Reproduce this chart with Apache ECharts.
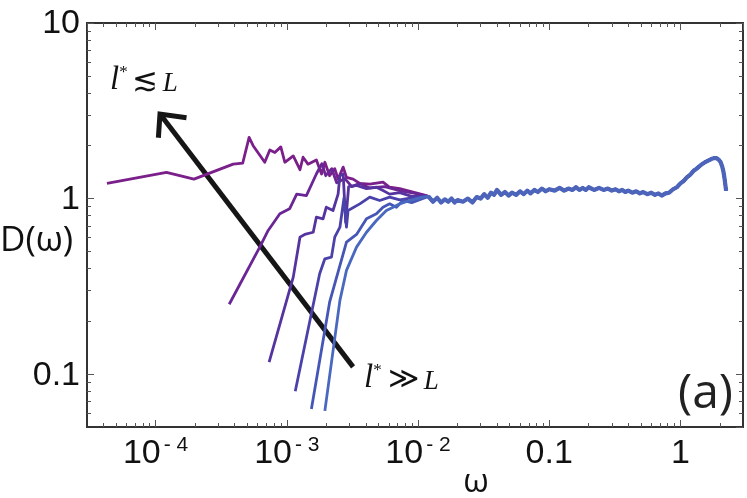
<!DOCTYPE html>
<html>
<head>
<meta charset="utf-8">
<script src="https://cdn.jsdelivr.net/npm/echarts@6/dist/echarts.min.js"></script>
<style>
  html, body { margin: 0; padding: 0; background: #fff; }
  #chart { width: 747px; height: 498px; }
</style>
</head>
<body>
<div id="chart"></div>
<script>
// low-frequency parts of each curve (omega, D)
const omega1 = [4.26e-5, 1.21e-4, 1.96e-4, 3.90e-4, 4.61e-4, 5.16e-4, 5.54e-4, 6.79e-4, 7.42e-4, 8.11e-4, 9.0e-4, 9.66e-4, 1.12e-3, 1.26e-3, 1.33e-3, 1.45e-3, 1.68e-3, 1.84e-3, 1.95e-3, 2.12e-3, 2.32e-3, 2.46e-3, 2.69e-3, 2.85e-3, 3.20e-3, 3.60e-3, 4.29e-3, 5.41e-3, 6.08e-3, 7.26e-3, 9.16e-3, 1.16e-2];
const d1 = [1.22, 1.41, 1.29, 1.57, 1.59, 2.23, 2.00, 1.61, 1.89, 1.83, 1.97, 1.61, 1.75, 1.46, 1.72, 1.57, 1.66, 1.38, 1.61, 1.35, 1.48, 1.29, 1.51, 1.32, 1.29, 1.22, 1.21, 1.24, 1.16, 1.14, 1.09, 1.04];

const omega2 = [3.64e-4, 6.22e-4, 7.21e-4, 8.85e-4, 1.05e-3, 1.19e-3, 1.41e-3, 1.68e-3, 1.85e-3, 1.98e-3, 2.20e-3, 2.40e-3, 2.77e-3, 3.13e-3, 3.60e-3, 4.29e-3, 5.57e-3, 7.26e-3, 9.45e-3];
const d2 = [0.250, 0.529, 0.658, 0.819, 0.874, 1.06, 1.04, 1.38, 1.58, 1.35, 1.48, 1.23, 1.30, 1.17, 1.22, 1.15, 1.17, 1.11, 1.07];

const omega3 = [7.33e-4, 1.12e-3, 1.26e-3, 1.37e-3, 1.59e-3, 1.68e-3, 1.89e-3, 2.00e-3, 2.25e-3, 2.46e-3, 2.54e-3, 2.69e-3, 2.81e-3, 2.96e-3, 3.40e-3, 4.05e-3, 4.82e-3, 5.41e-3, 6.08e-3, 7.26e-3, 8.95e-3];
const d3 = [0.117, 0.357, 0.603, 0.625, 0.643, 0.783, 0.767, 0.893, 0.855, 1.06, 1.35, 1.38, 0.731, 1.17, 1.19, 1.14, 1.16, 1.11, 1.06, 1.08, 1.03];

const omega4 = [1.16e-3, 1.78e-3, 1.95e-3, 2.19e-3, 2.32e-3, 2.54e-3, 2.73e-3, 2.85e-3, 2.93e-3, 3.60e-3, 4.29e-3, 5.11e-3, 6.08e-3, 7.26e-3, 8.95e-3];
const d4 = [0.080, 0.373, 0.454, 0.464, 0.603, 0.687, 1.01, 0.687, 0.855, 0.933, 1.02, 0.975, 1.02, 0.983, 1.01];

const omega5 = [1.54e-3, 2.12e-3, 2.85e-3, 3.40e-3, 4.05e-3, 4.82e-3, 5.41e-3, 6.08e-3, 6.84e-3, 7.69e-3, 8.95e-3];
const d5 = [0.0633, 0.257, 0.565, 0.625, 0.767, 0.819, 0.893, 0.933, 0.893, 0.975, 0.949];

const omega6 = [1.95e-3, 2.54e-3, 2.85e-3, 3.40e-3, 4.05e-3, 4.82e-3, 5.74e-3, 6.46e-3, 7.26e-3, 8.65e-3, 1.09e-2];
const d6 = [0.0618, 0.263, 0.390, 0.529, 0.643, 0.750, 0.855, 0.893, 0.933, 0.975, 1.02];

// common high-frequency part shared by all curves
const tailOmega = [0.012, 0.013, 0.014, 0.015, 0.016, 0.017, 0.018, 0.019, 0.020, 0.022,
  0.024, 0.026, 0.028, 0.030, 0.032, 0.034, 0.036, 0.038, 0.040, 0.043,
  0.046, 0.049, 0.052, 0.056, 0.060, 0.064, 0.068, 0.072, 0.077, 0.082,
  0.088, 0.094, 0.10, 0.11, 0.12, 0.13, 0.14, 0.15, 0.16, 0.17,
  0.18, 0.19, 0.20, 0.22, 0.24, 0.26, 0.28, 0.30, 0.32, 0.34,
  0.36, 0.38, 0.40, 0.43, 0.46, 0.49, 0.52, 0.56, 0.60, 0.64,
  0.68, 0.72, 0.77, 0.82, 0.88, 0.94, 1.00, 1.06, 1.12, 1.19,
  1.26, 1.33, 1.40, 1.48, 1.56, 1.64, 1.72, 1.80, 1.88, 1.95,
  2.02, 2.08, 2.13, 2.17, 2.20, 2.23];
const tailD = [1.03, 0.96, 1.01, 0.95, 0.99, 0.96, 1.00, 0.95, 0.98, 0.96,
  1.00, 0.95, 1.02, 1.00, 1.06, 1.01, 1.08, 1.05, 1.12, 1.05,
  1.09, 1.04, 1.08, 1.05, 1.10, 1.06, 1.11, 1.07, 1.12, 1.09,
  1.14, 1.10, 1.13, 1.11, 1.15, 1.11, 1.14, 1.12, 1.16, 1.12,
  1.15, 1.12, 1.16, 1.12, 1.15, 1.12, 1.14, 1.11, 1.13, 1.10,
  1.12, 1.09, 1.11, 1.08, 1.10, 1.07, 1.09, 1.06, 1.08, 1.05,
  1.07, 1.04, 1.07, 1.08, 1.13, 1.16, 1.22, 1.26, 1.32, 1.37,
  1.44, 1.48, 1.53, 1.58, 1.62, 1.65, 1.68, 1.70, 1.70, 1.67,
  1.62, 1.53, 1.42, 1.30, 1.20, 1.11];

// arrow (tail -> tip) and its head
const arrowOmega = [3.20e-3, 1.08e-4];
const arrowD = [0.110, 3.03];
const headOmega = [1.72e-4, 1.08e-4, 1.05e-4];
const headD = [2.89, 3.03, 2.22];

const colors = ['#7b1f8a', '#6a2694', '#5634a0', '#4a42aa', '#4656b6', '#4968bf'];
const bandColor = '#4c64b9';

const xTickLabels = ['{b|10}{s|- 4}', '{b|10}{s|- 3}', '{b|10}{s|- 2}', '{b|0.1}', '{b|1}'];
const yTickLabels = ['{b|0.1}', '{b|1}', '{b|10}'];
const xMinor = [4e-5, 5e-5, 6e-5, 7e-5, 8e-5, 9e-5,
  2e-4, 3e-4, 4e-4, 5e-4, 6e-4, 7e-4, 8e-4, 9e-4,
  2e-3, 3e-3, 4e-3, 5e-3, 6e-3, 7e-3, 8e-3, 9e-3,
  0.02, 0.03, 0.04, 0.05, 0.06, 0.07, 0.08, 0.09,
  0.2, 0.3, 0.4, 0.5, 0.6, 0.7, 0.8, 0.9, 2];
const yMinor = [0.06, 0.07, 0.08, 0.09, 0.2, 0.3, 0.4, 0.5, 0.6, 0.7, 0.8, 0.9, 2, 3, 4, 5, 6, 7, 8, 9];

function pairs(xs, ys) {
  return xs.map(function (x, i) { return [x, ys[i]]; });
}

const curves = [[omega1, d1], [omega2, d2], [omega3, d3], [omega4, d4], [omega5, d5], [omega6, d6]];

const labelRich = {
  b: { fontFamily: 'Liberation Sans', fontSize: 34, color: '#111', verticalAlign: 'bottom', lineHeight: 36 },
  s: { fontFamily: 'Liberation Sans', fontSize: 21, color: '#111', verticalAlign: 'top', lineHeight: 22, padding: [0, 0, 0, 3] }
};

function xAxisDef(pos, minor) {
  return {
    type: 'log', logBase: 10, min: 3e-5, max: 3, position: pos,
    axisLine: { show: false }, splitLine: { show: false },
    axisTick: minor
      ? { inside: true, length: 4, customValues: xMinor, lineStyle: { color: '#555', width: 1 } }
      : { inside: true, length: 7, lineStyle: { color: '#555', width: 1 } },
    axisLabel: (pos === 'bottom' && !minor) ? {
      margin: 8, showMinLabel: false, showMaxLabel: false, rich: labelRich,
      formatter: function (v) { return xTickLabels[Math.round(Math.log10(v)) + 4] || ''; }
    } : { show: false }
  };
}

function yAxisDef(pos, minor) {
  return {
    type: 'log', logBase: 10, min: 0.05, max: 10, position: pos,
    axisLine: { show: false }, splitLine: { show: false },
    axisTick: minor
      ? { inside: true, length: 4, customValues: yMinor, lineStyle: { color: '#555', width: 1 } }
      : { inside: true, length: 7, lineStyle: { color: '#555', width: 1 } },
    axisLabel: (pos === 'left' && !minor) ? {
      margin: 7, showMinLabel: false, rich: labelRich,
      formatter: function (v) { return yTickLabels[Math.round(Math.log10(v)) + 1] || ''; }
    } : { show: false }
  };
}

const series = [
  {
    type: 'line', data: pairs(arrowOmega, arrowD), symbol: 'none', silent: true,
    lineStyle: { color: '#161616', width: 5, cap: 'butt' }, z: 1
  },
  {
    type: 'line', data: pairs(headOmega, headD), symbol: 'none', silent: true,
    lineStyle: { color: '#161616', width: 5, join: 'miter', cap: 'butt' }, z: 1
  }
];
curves.forEach(function (c, i) {
  series.push({
    type: 'line', symbol: 'none', z: 2 + i,
    data: pairs(c[0], c[1]).concat(pairs(tailOmega, tailD)),
    lineStyle: { color: colors[i], width: 2.8, join: 'round' }
  });
});
// the overlapping noisy tails read as one thick band
series.push({
  type: 'line', symbol: 'none', z: 9,
  data: pairs(tailOmega, tailD),
  lineStyle: { color: bandColor, width: 4.2, join: 'round' }
});

const chart = echarts.init(document.getElementById('chart'), null, { renderer: 'canvas' });
chart.setOption({
  animation: false,
  backgroundColor: '#fff',
  grid: { left: 87, right: 4, top: 23, bottom: 71, show: true, borderColor: '#333', borderWidth: 2, backgroundColor: 'transparent' },
  xAxis: [xAxisDef('bottom', false), xAxisDef('bottom', true), xAxisDef('top', false), xAxisDef('top', true)],
  yAxis: [yAxisDef('left', false), yAxisDef('left', true), yAxisDef('right', false), yAxisDef('right', true)],
  series: series,
  graphic: [
    {
      type: 'text', x: 110, y: 64, z: 50,
      style: {
        text: '{l|l}{st|*}{op|≲}{L|L}',
        rich: {
          l: { fontFamily: 'Liberation Serif', fontStyle: 'italic', fontSize: 33, fill: '#111', verticalAlign: 'bottom' },
          st: { fontFamily: 'Liberation Serif', fontSize: 17, fill: '#111', verticalAlign: 'top' },
          op: { fontFamily: 'DejaVu Serif', fontSize: 31, fill: '#111', verticalAlign: 'bottom', padding: [0, 5, 0, 4] },
          L: { fontFamily: 'Liberation Serif', fontStyle: 'italic', fontSize: 27, fill: '#111', verticalAlign: 'bottom' }
        }
      }
    },
    {
      type: 'text', x: 364, y: 362, z: 50,
      style: {
        text: '{l|l}{st|*}{op|≫}{L|L}',
        rich: {
          l: { fontFamily: 'Liberation Serif', fontStyle: 'italic', fontSize: 33, fill: '#111', verticalAlign: 'bottom' },
          st: { fontFamily: 'Liberation Serif', fontSize: 17, fill: '#111', verticalAlign: 'top' },
          op: { fontFamily: 'DejaVu Serif', fontSize: 30, fill: '#111', verticalAlign: 'bottom', padding: [0, 5, 0, 6] },
          L: { fontFamily: 'Liberation Serif', fontStyle: 'italic', fontSize: 27, fill: '#111', verticalAlign: 'bottom' }
        }
      }
    },
    {
      type: 'text', x: 733, y: 394, z: 50,
      style: { text: '(a)', font: '48px "Open Sans"', fill: '#222', align: 'right', verticalAlign: 'middle' }
    },
    {
      type: 'text', x: 0, y: 241, z: 50,
      style: { text: 'D(ω)', font: '35px "Open Sans"', fill: '#111', align: 'left', verticalAlign: 'middle' }
    },
    {
      type: 'text', x: 476, y: 483, z: 50,
      style: { text: 'ω', font: '33px "Open Sans"', fill: '#111', align: 'center', verticalAlign: 'middle' }
    }
  ]
});
</script>
</body>
</html>
